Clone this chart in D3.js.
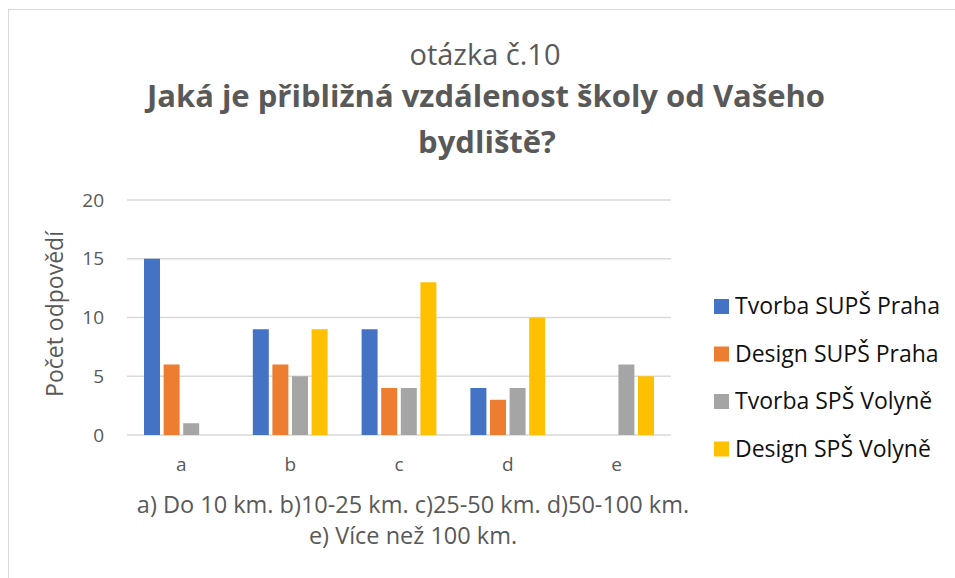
<!DOCTYPE html>
<html>
<head>
<meta charset="utf-8">
<script src="https://cdn.jsdelivr.net/npm/d3@7"></script>
<style>
  body { margin: 0; background: #fff; }
  svg { font-family: "Open Sans", sans-serif; }
</style>
</head>
<body>
<div id="chart"></div>
<script>
// data
var categories = ["a", "b", "c", "d", "e"];
var seriesNames = ["Tvorba SUPŠ Praha", "Design SUPŠ Praha", "Tvorba SPŠ Volyně", "Design SPŠ Volyně"];
var tvorbaPraha = [15, 9, 9, 4, 0];
var designPraha = [6, 6, 4, 3, 0];
var tvorbaVolyne = [1, 5, 4, 4, 6];
var designVolyne = [0, 9, 13, 10, 5];
var yTicks = [0, 5, 10, 15, 20];
var colors = ["#4472C4", "#ED7D31", "#A5A5A5", "#FFC000"];

var w = 955, h = 578;
var seriesValues = [tvorbaPraha, designPraha, tvorbaVolyne, designVolyne];

var svg = d3.select("#chart").append("svg")
  .attr("width", w).attr("height", h);

// chart frame
svg.append("rect")
  .attr("x", 8.5).attr("y", 9.5)
  .attr("width", 960).attr("height", 600)
  .attr("fill", "#fff").attr("stroke", "#d9d9d9");

// titles
svg.append("text").attr("x", 485).attr("y", 65)
  .attr("text-anchor", "middle").attr("font-size", 29).attr("fill", "#595959")
  .text("otázka č.10");
svg.append("text").attr("x", 486).attr("y", 107)
  .attr("text-anchor", "middle").attr("font-size", 31).attr("font-weight", "bold").attr("fill", "#595959")
  .text("Jaká je přibližná vzdálenost školy od Vašeho");
svg.append("text").attr("x", 487).attr("y", 153)
  .attr("text-anchor", "middle").attr("font-size", 31).attr("font-weight", "bold").attr("fill", "#595959")
  .text("bydliště?");

var x0 = d3.scaleBand().domain(categories).range([127, 671]);
var x1 = d3.scaleBand().domain(d3.range(seriesNames.length))
  .range([0, x0.bandwidth()])
  .paddingInner(0.184).paddingOuter(0.868);
var y = d3.scaleLinear().domain([0, 20]).range([435, 200]);

// gridlines
svg.append("g").selectAll("line").data(yTicks).enter().append("line")
  .attr("x1", 127).attr("x2", 671)
  .attr("y1", function(d){ return y(d); })
  .attr("y2", function(d){ return y(d); })
  .attr("stroke", "#d9d9d9").attr("stroke-width", 1.3);

// y axis labels
var yAxis = svg.append("g").attr("transform", "translate(127,0)")
  .call(d3.axisLeft(y).tickValues(yTicks).tickSize(0).tickPadding(23));
yAxis.select(".domain").remove();
yAxis.selectAll("text").attr("font-size", 19).attr("fill", "#595959").attr("font-family", "'Open Sans', sans-serif");

// x axis labels
var xAxis = svg.append("g").attr("transform", "translate(0,435)")
  .call(d3.axisBottom(x0).tickSize(0).tickPadding(23));
xAxis.select(".domain").remove();
xAxis.selectAll("text").attr("font-size", 19).attr("fill", "#595959").attr("font-family", "'Open Sans', sans-serif");

// bars
var groups = svg.append("g").selectAll("g").data(categories).enter().append("g")
  .attr("transform", function(d){ return "translate(" + x0(d) + ",0)"; });
groups.selectAll("rect")
  .data(function(d, i){ return seriesValues.map(function(s, j){ return {s: j, v: s[i]}; }); })
  .enter().append("rect")
  .filter(function(d){ return d.v > 0; })
  .attr("x", function(d){ return x1(d.s); })
  .attr("y", function(d){ return y(d.v); })
  .attr("width", x1.bandwidth())
  .attr("height", function(d){ return y(0) - y(d.v); })
  .attr("fill", function(d){ return colors[d.s]; });

// axis titles
svg.append("text")
  .attr("transform", "translate(63,314) rotate(-90)")
  .attr("text-anchor", "middle").attr("font-size", 23).attr("fill", "#595959")
  .text("Počet odpovědí");
svg.append("text").attr("x", 413).attr("y", 513)
  .attr("text-anchor", "middle").attr("font-size", 23.5).attr("fill", "#595959")
  .text("a) Do 10 km. b)10-25 km. c)25-50 km. d)50-100 km.");
svg.append("text").attr("x", 413).attr("y", 544)
  .attr("text-anchor", "middle").attr("font-size", 23.5).attr("fill", "#595959")
  .text("e) Více než 100 km.");

// legend
var legend = svg.append("g").selectAll("g").data(seriesNames).enter().append("g")
  .attr("transform", function(d, i){ return "translate(714," + (314 + i * 47.5) + ")"; });
legend.append("rect").attr("x", 0).attr("y", -15).attr("width", 15).attr("height", 15)
  .attr("fill", function(d, i){ return colors[i]; });
legend.append("text").attr("x", 21).attr("y", 0)
  .attr("font-size", 23).attr("fill", "#111")
  .text(function(d){ return d; });
</script>
</body>
</html>
